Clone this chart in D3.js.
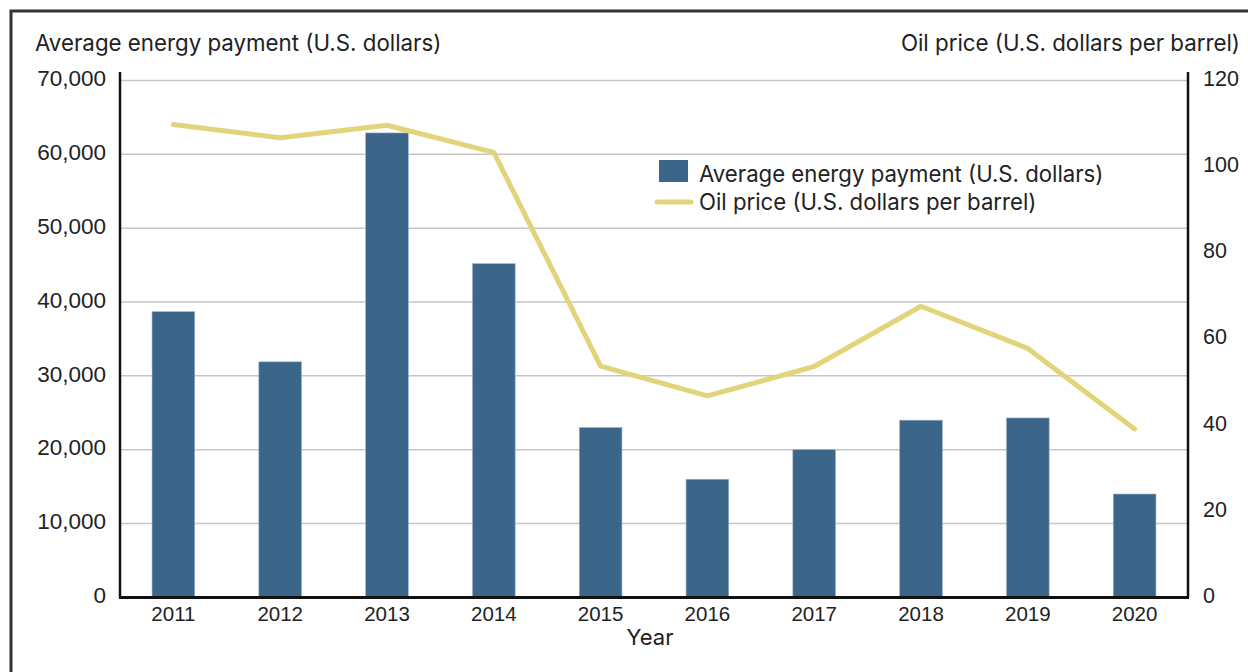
<!DOCTYPE html>
<html><head><meta charset="utf-8">
<script src="https://cdn.jsdelivr.net/npm/d3@7"></script>
<style>
html,body{margin:0;padding:0;background:#fff;}
svg{display:block;}
</style></head>
<body>
<script>
const years = ["2011","2012","2013","2014","2015","2016","2017","2018","2019","2020"];
const payments = [38700, 31900, 62900, 45200, 23000, 16000, 20000, 24000, 24300, 14000];
const oilPrices = [109.8, 106.7, 109.6, 103.3, 53.7, 46.8, 53.6, 67.6, 57.8, 39.1];
const leftTicks = [0,10000,20000,30000,40000,50000,60000,70000];
const rightTicks = [0,20,40,60,80,100,120];
const leftTitle = "Average energy payment (U.S. dollars)";
const rightTitle = "Oil price (U.S. dollars per barrel)";
const xTitle = "Year";

const W = 1248, H = 672;
const m = {left:120, right:1188, top:80.5, bottom:597.4};
const titleFont = "Inter, 'Noto Sans', sans-serif";
const tickFont = "'Liberation Sans', Arial, sans-serif";
const barColor = "#3b6589", lineColor = "#e2d47b", textColor = "#222";

const svg = d3.select("body").append("svg").attr("width",W).attr("height",H);

// frame
svg.append("rect").attr("x",11).attr("y",11).attr("width",W+20).attr("height",H+20)
  .attr("fill","none").attr("stroke","#333").attr("stroke-width",3);

const x = d3.scaleBand().domain(years).range([m.left,m.right]).paddingInner(0.6).paddingOuter(0.3);
const yL = d3.scaleLinear().domain([0,70000]).range([m.bottom,m.top]);
const yR = d3.scaleLinear().domain([0,120]).range([m.bottom,m.top]);

// gridlines
svg.append("g").selectAll("line").data(leftTicks.slice(1)).join("line")
  .attr("x1",m.left).attr("x2",m.right).attr("y1",d=>yL(d)).attr("y2",d=>yL(d))
  .attr("stroke","#c6c6c6").attr("stroke-width",1.5);

// bars
svg.append("g").selectAll("rect").data(years).join("rect")
  .attr("x",d=>x(d)).attr("width",x.bandwidth())
  .attr("y",(d,i)=>yL(payments[i])).attr("height",(d,i)=>m.bottom-yL(payments[i]))
  .attr("fill",barColor).attr("stroke","#9fb5c8").attr("stroke-width",0.6);

// line
const line = d3.line().x((d,i)=>x(years[i])+x.bandwidth()/2).y(d=>yR(d));
svg.append("path").datum(oilPrices).attr("d",line).attr("fill","none")
  .attr("stroke",lineColor).attr("stroke-width",5).attr("stroke-linejoin","round").attr("stroke-linecap","round");

// axes
const axL = d3.axisLeft(yL).tickValues(leftTicks).tickSize(0).tickPadding(14).tickFormat(d3.format(","));
const gL = svg.append("g").attr("transform",`translate(${m.left},0)`).call(axL);
gL.select(".domain").remove();
gL.selectAll("text").attr("font-family",tickFont).attr("font-size",22.5).attr("fill",textColor).attr("dy","0.23em");
svg.append("line").attr("x1",m.left).attr("x2",m.left).attr("y1",72).attr("y2",m.bottom)
  .attr("stroke","#111").attr("stroke-width",2.5);

const axR = d3.axisRight(yR).tickValues(rightTicks).tickSize(0).tickPadding(15);
const gR = svg.append("g").attr("transform",`translate(${m.right},0)`).call(axR);
gR.select(".domain").remove();
gR.selectAll("text").attr("font-family",tickFont).attr("font-size",21.5).attr("fill",textColor).attr("dy","0.23em");
svg.append("line").attr("x1",m.right).attr("x2",m.right).attr("y1",72).attr("y2",m.bottom)
  .attr("stroke","#111").attr("stroke-width",2.5);

const axB = d3.axisBottom(x).tickSize(0).tickPadding(9);
const gB = svg.append("g").attr("transform",`translate(0,${m.bottom})`).call(axB);
gB.select(".domain").remove();
gB.selectAll("text").attr("font-family",tickFont).attr("font-size",20.5).attr("fill",textColor);
svg.append("line").attr("x1",m.left-1).attr("x2",m.right+1).attr("y1",m.bottom).attr("y2",m.bottom)
  .attr("stroke","#111").attr("stroke-width",3);

// titles
svg.append("text").attr("x",35).attr("y",51).text(leftTitle)
  .attr("font-family",titleFont).attr("font-size",22.3).attr("fill",textColor);
svg.append("text").attr("x",1240).attr("y",51).attr("text-anchor","end").text(rightTitle)
  .attr("font-family",titleFont).attr("font-size",22.3).attr("fill",textColor);
svg.append("text").attr("x",650).attr("y",645).attr("text-anchor","middle").text(xTitle)
  .attr("font-family",titleFont).attr("font-size",22).attr("fill",textColor);

// legend
const lg = svg.append("g");
lg.append("rect").attr("x",659).attr("y",160).attr("width",29).attr("height",22).attr("fill",barColor);
lg.append("text").attr("x",699).attr("y",182).text(leftTitle)
  .attr("font-family",titleFont).attr("font-size",22.2).attr("fill",textColor);
lg.append("line").attr("x1",657).attr("x2",691).attr("y1",202).attr("y2",202)
  .attr("stroke",lineColor).attr("stroke-width",5).attr("stroke-linecap","round");
lg.append("text").attr("x",699).attr("y",210).text(rightTitle)
  .attr("font-family",titleFont).attr("font-size",22.2).attr("fill",textColor);
</script>
</body></html>
